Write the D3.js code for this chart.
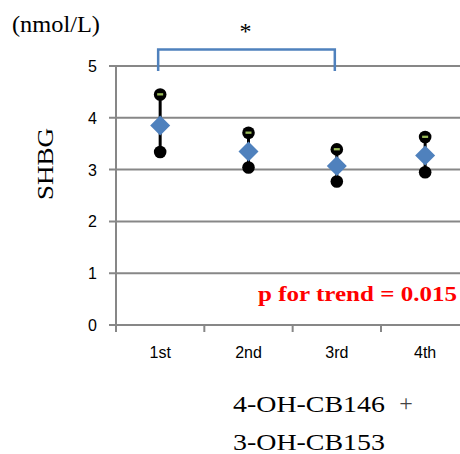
<!DOCTYPE html>
<html>
<head>
<meta charset="utf-8">
<script src="https://cdn.jsdelivr.net/npm/d3@7"></script>
<style>
  html, body { margin: 0; padding: 0; background: #fff; overflow: hidden; }
</style>
</head>
<body>
<div id="chart"></div>
<script>
// quartile categories
const categories = ["1st", "2nd", "3rd", "4th"];
// mean SHBG per quartile (diamonds) and its CI bounds
const meanValues = [3.85, 3.35, 3.07, 3.27];
const upperValues = [4.45, 3.71, 3.39, 3.63];
const lowerValues = [3.34, 3.04, 2.77, 2.95];
const yTicks = [0, 1, 2, 3, 4, 5];
// significance bracket between these two quartiles
const bracketPair = ["1st", "3rd"];

const width = 460, height = 454;
const serif = "'Liberation Serif', 'Times New Roman', serif";
const sans = "'Liberation Sans', Arial, sans-serif";

const svg = d3.select("#chart").append("svg")
  .attr("width", width)
  .attr("height", height);

const x = d3.scaleBand().domain(categories).range([116, 469.3]);
const y = d3.scaleLinear().domain([0, 5]).range([325, 66]);

const gray = "#878787";

// horizontal gridlines
svg.append("g")
  .selectAll("line")
  .data(yTicks)
  .join("line")
  .attr("x1", 109).attr("x2", width)
  .attr("y1", d => y(d)).attr("y2", d => y(d))
  .attr("stroke", gray).attr("stroke-width", 2);

// y axis line
svg.append("line")
  .attr("x1", 116).attr("x2", 116)
  .attr("y1", y(5)).attr("y2", y(0))
  .attr("stroke", gray).attr("stroke-width", 2);

// x tick marks at band boundaries
svg.append("g")
  .selectAll("line")
  .data(categories)
  .join("line")
  .attr("x1", d => x(d)).attr("x2", d => x(d))
  .attr("y1", y(0)).attr("y2", y(0) + 7)
  .attr("stroke", gray).attr("stroke-width", 2);

// y tick labels
svg.append("g")
  .selectAll("text")
  .data(yTicks)
  .join("text")
  .attr("x", 97)
  .attr("y", d => y(d) + 6)
  .attr("text-anchor", "end")
  .style("font-family", sans)
  .style("font-size", "16px")
  .attr("fill", "#000")
  .text(d => d);

// x tick labels
svg.append("g")
  .selectAll("text")
  .data(categories)
  .join("text")
  .attr("x", d => x(d) + x.bandwidth() / 2)
  .attr("y", 358)
  .attr("text-anchor", "middle")
  .style("font-family", sans)
  .style("font-size", "16px")
  .text(d => d);

// error bars
const cx = d => x(d) + x.bandwidth() / 2;
const pts = categories.map((c, i) => ({ c, mean: meanValues[i], hi: upperValues[i], lo: lowerValues[i] }));

svg.append("g")
  .selectAll("line")
  .data(pts)
  .join("line")
  .attr("x1", d => cx(d.c)).attr("x2", d => cx(d.c))
  .attr("y1", d => y(d.hi)).attr("y2", d => y(d.lo))
  .attr("stroke", "#000").attr("stroke-width", 3);

// lower bound dots
svg.append("g")
  .selectAll("circle")
  .data(pts)
  .join("circle")
  .attr("cx", d => cx(d.c)).attr("cy", d => y(d.lo))
  .attr("r", 6.3).attr("fill", "#000");

// upper bound dots with green dash
const up = svg.append("g").selectAll("g").data(pts).join("g")
  .attr("transform", d => `translate(${cx(d.c)},${y(d.hi)})`);
up.append("circle").attr("r", 6.3).attr("fill", "#000");
up.append("rect")
  .attr("x", -3).attr("y", -1.3).attr("width", 6).attr("height", 2.3)
  .attr("fill", "#9bbb59");

// mean diamonds
svg.append("g")
  .selectAll("path")
  .data(pts)
  .join("path")
  .attr("d", d => {
    const px = cx(d.c), py = y(d.mean), r = 10;
    return `M${px},${py - r}L${px + r},${py}L${px},${py + r}L${px - r},${py}Z`;
  })
  .attr("fill", "#4f81bd");

// significance bracket
const bx1 = cx(bracketPair[0]) - 2, bx2 = cx(bracketPair[1]) - 2;
svg.append("path")
  .attr("d", `M${bx1},71V49.5H${bx2}V71`)
  .attr("fill", "none")
  .attr("stroke", "#4f81bd")
  .attr("stroke-width", 2.5);

svg.append("text")
  .attr("x", (bx1 + bx2) / 2 - 1)
  .attr("y", 39)
  .attr("text-anchor", "middle")
  .style("font-family", serif)
  .style("font-size", "24px")
  .text("*");

// unit label
svg.append("text")
  .attr("x", 12).attr("y", 32)
  .attr("textLength", 88).attr("lengthAdjust", "spacingAndGlyphs")
  .style("font-family", serif)
  .style("font-size", "23px")
  .text("(nmol/L)");

// y axis title
svg.append("text")
  .attr("transform", "translate(53,164) rotate(-90)")
  .attr("text-anchor", "middle")
  .attr("textLength", 72).attr("lengthAdjust", "spacingAndGlyphs")
  .style("font-family", serif)
  .style("font-size", "23px")
  .text("SHBG");

// trend p-value
svg.append("text")
  .attr("x", 258).attr("y", 301)
  .attr("textLength", 199).attr("lengthAdjust", "spacingAndGlyphs")
  .style("font-family", serif)
  .style("font-size", "22px")
  .style("font-weight", "bold")
  .attr("fill", "#ff0000")
  .text("p for trend = 0.015");

// x axis title (two lines)
svg.append("text")
  .attr("x", 233).attr("y", 412)
  .attr("textLength", 152).attr("lengthAdjust", "spacingAndGlyphs")
  .style("font-family", serif)
  .style("font-size", "24px")
  .text("4-OH-CB146");

svg.append("text")
  .attr("x", 406).attr("y", 411)
  .attr("text-anchor", "middle")
  .style("font-family", serif)
  .style("font-size", "24px")
  .attr("fill", "#444")
  .text("+");

svg.append("text")
  .attr("x", 233).attr("y", 450)
  .attr("textLength", 152).attr("lengthAdjust", "spacingAndGlyphs")
  .style("font-family", serif)
  .style("font-size", "24px")
  .text("3-OH-CB153");
</script>
</body>
</html>
